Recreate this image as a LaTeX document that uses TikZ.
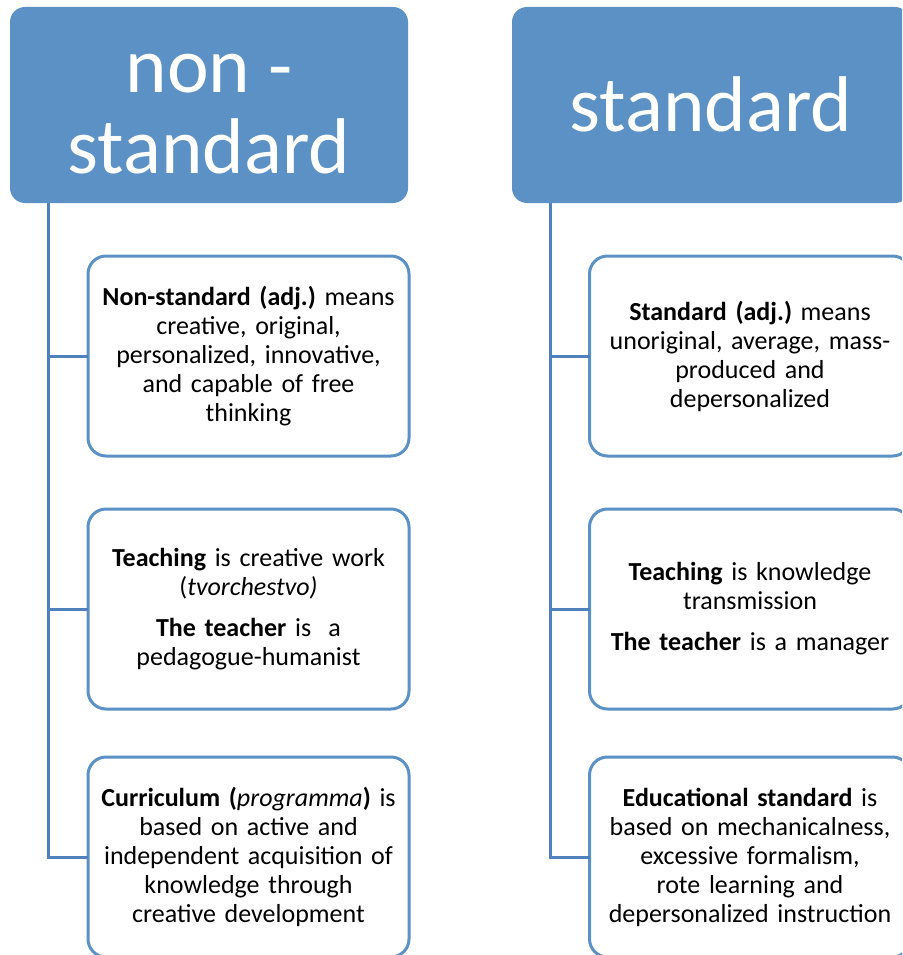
\documentclass[tikz,border=0pt]{standalone}
\usepackage{fontspec}
\setmainfont{Carlito}
\frenchspacing
\definecolor{hdrblue}{RGB}{91,145,196}
\definecolor{boxblue}{RGB}{91,145,196}
\definecolor{lineblue}{RGB}{79,129,189}
\tikzset{
  header/.style={fill=hdrblue, rounded corners=15pt, minimum width=398pt, minimum height=196pt,
    inner sep=0pt, outer sep=0pt},
  htext/.style={text=white, align=center, inner sep=0pt, font=\fontsize{79}{81}\selectfont},
  infobox/.style={draw=boxblue, line width=3pt, fill=white, rounded corners=18pt,
    minimum width=321pt, minimum height=200pt, inner sep=0pt, outer sep=0pt,
    text width=316pt, align=center, text=black, font=\fontsize{26}{29}\selectfont},
  conn/.style={draw=lineblue, line width=3pt}
}
\begin{document}
\begin{tikzpicture}[x=1pt,y=-1pt]
\useasboundingbox (0,0) rectangle (902,955);
\clip (0,0) rectangle (902,955);
% headers
\node[header] (hl) at (209,105) {};
\node[htext] (hlt) at ([yshift=-9pt]hl.center) {non -\\standard};
\node[header] (hr) at (711,105) {};
\node[htext] (hrt) at ([yshift=1pt]hr.center) {standard};
% trunk coordinates
\coordinate (tl) at (48,203);
\coordinate (tr) at (550,203);
% left boxes
\node[infobox] (l1) at (248.5,356) {\textbf{Non-standard (adj.)} means\\creative, original,\\personalized, innovative,\\and capable of free\\thinking};
\node[infobox] (l2) at (248.5,609) {\textbf{Teaching} is creative work\\(\textit{tvorchestvo)}\\[12pt]\textbf{The teacher} is\ \ a\\pedagogue-humanist};
\node[infobox] (l3) at (248.5,857) {\textbf{Curriculum (}\textit{programma}\textbf{)} is\\based on active and\\independent acquisition of\\knowledge through\\creative development};
% right boxes
\node[infobox] (r1) at (750,356) {\textbf{Standard (adj.)} means\\unoriginal, average, mass-\\produced and\\depersonalized};
\node[infobox] (r2) at (750,609) {\textbf{Teaching} is knowledge\\transmission\\[12pt]\textbf{The teacher} is a manager};
\node[infobox] (r3) at (750,857) {\textbf{Educational standard} is\\based on mechanicalness,\\excessive formalism,\\rote learning and\\depersonalized instruction};
% connectors
\draw[conn] (tl) |- (l3.west);
\draw[conn] (tl |- l1.west) -- (l1.west);
\draw[conn] (tl |- l2.west) -- (l2.west);
\draw[conn] (tr) |- (r3.west);
\draw[conn] (tr |- r1.west) -- (r1.west);
\draw[conn] (tr |- r2.west) -- (r2.west);
\end{tikzpicture}
\end{document}
